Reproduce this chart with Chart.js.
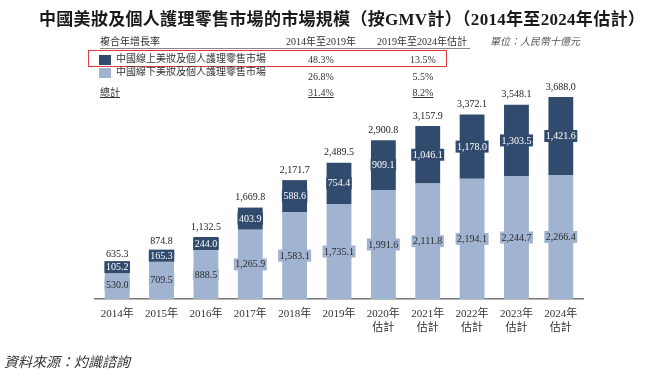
<!DOCTYPE html>
<html>
<head>
<meta charset="utf-8">
<script src="https://cdn.jsdelivr.net/npm/chart.js@4"></script>
<style>
  body { margin: 0; background: #fff; }
  #wrap { position: relative; width: 650px; height: 376px; overflow: hidden;
          font-family: "Liberation Serif", "Noto Sans CJK TC", serif; color: #333; }
  #wrap canvas { position: absolute; left: 0; top: 0; }
  .t { position: absolute; white-space: nowrap; font-size: 10px; line-height: 12px; }
  .c { transform: translateX(-50%); }
  .u { text-decoration: underline; }
  .sq { position: absolute; width: 12px; height: 10px; }
</style>
</head>
<body>
<div id="wrap">
  <canvas id="myChart" width="650" height="376"></canvas>
  <div class="t" style="left:39px;top:9px;font-size:17px;line-height:22px;font-weight:bold;letter-spacing:0.3px;color:#1a1a1a;">中國美妝及個人護理零售市場的市場規模（按GMV計）（2014年至2024年估計）</div>
  <div class="t" style="left:100px;top:36px;">複合年增長率</div>
  <div class="t c" style="left:321px;top:36px;">2014年至2019年</div>
  <div class="t c" style="left:422px;top:36px;">2019年至2024年估計</div>
  <div style="position:absolute;left:100px;top:48px;width:370px;height:0;border-top:1.5px solid #888;"></div>
  <div class="t" style="left:490px;top:36px;font-style:italic;color:#555;">單位：人民幣十億元</div>
  <div style="position:absolute;left:88px;top:50px;width:357px;height:15px;border:1.5px solid #e0393e;"></div>
  <div id="rows"></div>
  <div class="t" style="left:4px;top:354px;font-size:14px;line-height:18px;font-style:italic;">資料來源：灼識諮詢</div>
</div>
<script>
const years = ['2014年', '2015年', '2016年', '2017年', '2018年', '2019年',
    ['2020年', '估計'], ['2021年', '估計'], ['2022年', '估計'], ['2023年', '估計'], ['2024年', '估計']];
const online = [105.2, 165.3, 244.0, 403.9, 588.6, 754.4, 909.1, 1046.1, 1178.0, 1303.5, 1421.6];
const offline = [530.0, 709.5, 888.5, 1265.9, 1583.1, 1735.1, 1991.6, 2111.8, 2194.1, 2244.7, 2266.4];
const totals = [635.3, 874.8, 1132.5, 1669.8, 2171.7, 2489.5, 2900.8, 3157.9, 3372.1, 3548.1, 3688.0];

const rowNames = ['中國線上美妝及個人護理零售市場', '中國線下美妝及個人護理零售市場', '總計'];
const cagr1419 = ['48.3%', '26.8%', '31.4%'];
const cagr1924 = ['13.5%', '5.5%', '8.2%'];

const darkBlue = '#314b6e';
const lightBlue = '#a0b3d1';

// table rows above the chart
let rows = document.getElementById('rows');
let nameY = [53, 66, 87];
let numY = [54, 71, 87];
let sqColors = [darkBlue, lightBlue];
rowNames.forEach(function(name, i) {
    let html = '';
    if (i < 2) {
        html += '<div class="sq" style="left:99px;top:' + (nameY[i] + 2) + 'px;background:' + sqColors[i] + ';"></div>';
        html += '<div class="t" style="left:116px;top:' + nameY[i] + 'px;">' + name + '</div>';
    } else {
        html += '<div class="t u" style="left:100px;top:' + nameY[i] + 'px;">' + name + '</div>';
    }
    let u = i == 2 ? ' u' : '';
    html += '<div class="t c' + u + '" style="left:321px;top:' + numY[i] + 'px;">' + cagr1419[i] + '</div>';
    html += '<div class="t c' + u + '" style="left:423px;top:' + numY[i] + 'px;">' + cagr1924[i] + '</div>';
    rows.insertAdjacentHTML('beforeend', html);
});

function fmt(v) {
    return v.toLocaleString('en-US', { minimumFractionDigits: 1, maximumFractionDigits: 1 });
}

const barLabels = {
    id: 'barLabels',
    afterDatasetsDraw(chart) {
        let ctx = chart.ctx;
        ctx.save();
        ctx.font = '10px "Liberation Serif", serif';
        ctx.textAlign = 'center';
        ctx.textBaseline = 'middle';
        chart.data.datasets.forEach(function(ds, di) {
            let meta = chart.getDatasetMeta(di);
            meta.data.forEach(function(bar, i) {
                let p = bar.getProps(['x', 'y', 'base'], true);
                let cy = (p.y + p.base) / 2;
                let txt = fmt(ds.data[i]);
                let w = ctx.measureText(txt).width + 3;
                ctx.fillStyle = ds.backgroundColor;
                ctx.fillRect(p.x - w / 2, cy - 6, w, 12);
                ctx.fillStyle = di == 1 ? '#ffffff' : '#2b2b2b';
                ctx.fillText(txt, p.x, cy + 0.5);
            });
        });
        // totals on top
        let top = chart.getDatasetMeta(1);
        ctx.fillStyle = '#222';
        top.data.forEach(function(bar, i) {
            ctx.fillText(fmt(totals[i]), bar.x, bar.y - 10);
        });
        ctx.restore();
    }
};

new Chart(document.getElementById('myChart'), {
    type: 'bar',
    data: {
        labels: years,
        datasets: [
            { label: '中國線下美妝及個人護理零售市場', data: offline, backgroundColor: lightBlue },
            { label: '中國線上美妝及個人護理零售市場', data: online, backgroundColor: darkBlue }
        ]
    },
    options: {
        responsive: false,
        animation: false,
        layout: { padding: { left: 95, right: 67, top: 80, bottom: 0 } },
        datasets: { bar: { barPercentage: 0.56, categoryPercentage: 1 } },
        plugins: { legend: { display: false }, tooltip: { enabled: false } },
        scales: {
            x: {
                stacked: true,
                grid: { display: false, drawTicks: false },
                border: { color: '#777', width: 1.5 },
                ticks: {
                    color: '#333',
                    padding: 8,
                    maxRotation: 0,
                    font: { family: '"Liberation Serif", "Noto Sans CJK TC", serif', size: 11, lineHeight: 1.3 }
                },
                afterFit: function(scale) { scale.height = 77; }
            },
            y: { stacked: true, display: false, min: 0, max: 4000 }
        }
    },
    plugins: [barLabels]
});
</script>
</body>
</html>
